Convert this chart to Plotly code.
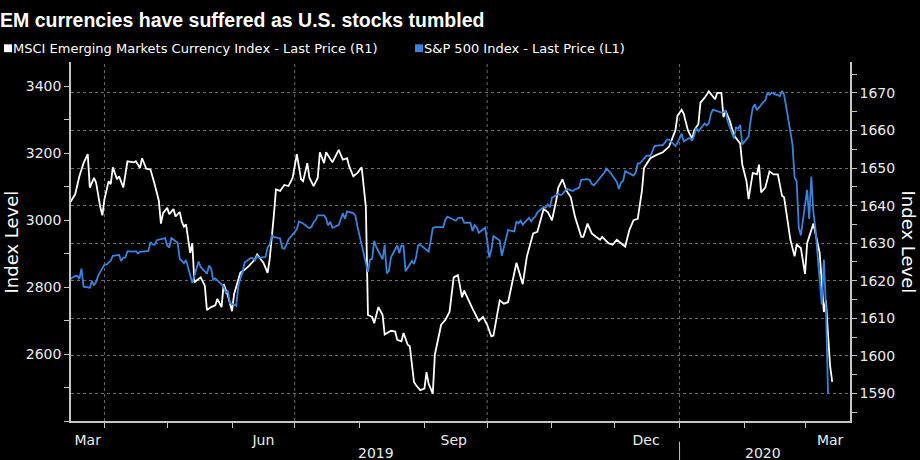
import plotly.graph_objects as go

# ---------------- data ----------------
sp_dates = [
    "2019-03-15", "2019-03-18", "2019-03-19", "2019-03-20", "2019-03-21", "2019-03-22", "2019-03-25", "2019-03-26",
    "2019-03-27", "2019-03-28", "2019-03-29", "2019-04-01", "2019-04-02", "2019-04-03", "2019-04-04", "2019-04-05",
    "2019-04-08", "2019-04-09", "2019-04-10", "2019-04-11", "2019-04-12", "2019-04-15", "2019-04-16", "2019-04-17",
    "2019-04-18", "2019-04-22", "2019-04-23", "2019-04-24", "2019-04-25", "2019-04-26", "2019-04-29", "2019-04-30",
    "2019-05-01", "2019-05-02", "2019-05-03", "2019-05-06", "2019-05-07", "2019-05-08", "2019-05-09", "2019-05-10",
    "2019-05-13", "2019-05-14", "2019-05-15", "2019-05-16", "2019-05-17", "2019-05-20", "2019-05-21", "2019-05-22",
    "2019-05-23", "2019-05-24", "2019-05-28", "2019-05-29", "2019-05-30", "2019-05-31", "2019-06-03", "2019-06-04",
    "2019-06-05", "2019-06-06", "2019-06-07", "2019-06-10", "2019-06-11", "2019-06-12", "2019-06-13", "2019-06-14",
    "2019-06-17", "2019-06-18", "2019-06-19", "2019-06-20", "2019-06-21", "2019-06-24", "2019-06-25", "2019-06-26",
    "2019-06-27", "2019-06-28", "2019-07-01", "2019-07-02", "2019-07-03", "2019-07-05", "2019-07-08", "2019-07-09",
    "2019-07-10", "2019-07-11", "2019-07-12", "2019-07-15", "2019-07-16", "2019-07-17", "2019-07-18", "2019-07-19",
    "2019-07-22", "2019-07-23", "2019-07-24", "2019-07-25", "2019-07-26", "2019-07-29", "2019-07-30", "2019-07-31",
    "2019-08-01", "2019-08-02", "2019-08-05", "2019-08-06", "2019-08-07", "2019-08-08", "2019-08-09", "2019-08-12",
    "2019-08-13", "2019-08-14", "2019-08-15", "2019-08-16", "2019-08-19", "2019-08-20", "2019-08-21", "2019-08-22",
    "2019-08-23", "2019-08-26", "2019-08-27", "2019-08-28", "2019-08-29", "2019-08-30", "2019-09-03", "2019-09-04",
    "2019-09-05", "2019-09-06", "2019-09-09", "2019-09-10", "2019-09-11", "2019-09-12", "2019-09-13", "2019-09-16",
    "2019-09-17", "2019-09-18", "2019-09-19", "2019-09-20", "2019-09-23", "2019-09-24", "2019-09-25", "2019-09-26",
    "2019-09-27", "2019-09-30", "2019-10-01", "2019-10-02", "2019-10-03", "2019-10-04", "2019-10-07", "2019-10-08",
    "2019-10-09", "2019-10-10", "2019-10-11", "2019-10-14", "2019-10-15", "2019-10-16", "2019-10-17", "2019-10-18",
    "2019-10-21", "2019-10-22", "2019-10-23", "2019-10-24", "2019-10-25", "2019-10-28", "2019-10-29", "2019-10-30",
    "2019-10-31", "2019-11-01", "2019-11-04", "2019-11-05", "2019-11-06", "2019-11-07", "2019-11-08", "2019-11-11",
    "2019-11-12", "2019-11-13", "2019-11-14", "2019-11-15", "2019-11-18", "2019-11-19", "2019-11-20", "2019-11-21",
    "2019-11-22", "2019-11-25", "2019-11-26", "2019-11-27", "2019-11-29", "2019-12-02", "2019-12-03", "2019-12-04",
    "2019-12-05", "2019-12-06", "2019-12-09", "2019-12-10", "2019-12-11", "2019-12-12", "2019-12-13", "2019-12-16",
    "2019-12-17", "2019-12-18", "2019-12-19", "2019-12-20", "2019-12-23", "2019-12-24", "2019-12-26", "2019-12-27",
    "2019-12-30", "2019-12-31", "2020-01-02", "2020-01-03", "2020-01-06", "2020-01-07", "2020-01-08", "2020-01-09",
    "2020-01-10", "2020-01-13", "2020-01-14", "2020-01-15", "2020-01-16", "2020-01-17", "2020-01-21", "2020-01-22",
    "2020-01-23", "2020-01-24", "2020-01-27", "2020-01-28", "2020-01-29", "2020-01-30", "2020-01-31", "2020-02-03",
    "2020-02-04", "2020-02-05", "2020-02-06", "2020-02-07", "2020-02-10", "2020-02-11", "2020-02-12", "2020-02-13",
    "2020-02-14", "2020-02-18", "2020-02-19", "2020-02-20", "2020-02-21", "2020-02-24", "2020-02-25", "2020-02-26",
    "2020-02-27", "2020-02-28", "2020-03-02", "2020-03-03", "2020-03-04", "2020-03-05", "2020-03-06", "2020-03-09",
    "2020-03-10", "2020-03-11", "2020-03-12",
]
sp_values = [
    2822, 2833, 2833, 2824, 2855, 2801, 2798, 2818, 2805, 2815, 2834, 2867, 2867, 2873, 2879, 2893,
    2896, 2878, 2888, 2888, 2907, 2906, 2907, 2900, 2905, 2908, 2934, 2927, 2926, 2940, 2943, 2946,
    2924, 2918, 2946, 2932, 2884, 2879, 2871, 2881, 2812, 2834, 2851, 2876, 2860, 2840, 2864, 2856,
    2822, 2826, 2802, 2783, 2789, 2752, 2744, 2803, 2826, 2843, 2873, 2887, 2886, 2880, 2892, 2887,
    2890, 2918, 2926, 2954, 2950, 2945, 2917, 2914, 2925, 2942, 2964, 2973, 2996, 2990, 2976, 2980,
    2993, 3000, 3014, 3014, 3004, 2984, 2995, 2977, 2985, 3005, 3020, 3004, 3026, 3021, 3013, 2980,
    2954, 2932, 2845, 2882, 2884, 2938, 2919, 2883, 2926, 2841, 2848, 2889, 2924, 2901, 2924, 2923,
    2847, 2878, 2869, 2888, 2925, 2926, 2906, 2938, 2976, 2979, 2978, 2979, 3001, 3010, 3007, 2998,
    3006, 3007, 3007, 2992, 2992, 2967, 2985, 2978, 2962, 2977, 2940, 2888, 2911, 2952, 2939, 2893,
    2919, 2938, 2970, 2966, 2996, 2990, 2998, 2986, 3007, 2996, 3005, 3010, 3023, 3039, 3037, 3047,
    3038, 3067, 3078, 3075, 3077, 3085, 3093, 3087, 3092, 3094, 3097, 3120, 3122, 3120, 3108, 3104,
    3110, 3134, 3141, 3154, 3141, 3114, 3093, 3113, 3117, 3146, 3136, 3133, 3142, 3169, 3169, 3191,
    3193, 3191, 3205, 3221, 3224, 3223, 3240, 3240, 3221, 3231, 3258, 3235, 3246, 3237, 3253, 3275,
    3265, 3288, 3283, 3289, 3317, 3330, 3321, 3322, 3326, 3295, 3244, 3276, 3273, 3284, 3226, 3249,
    3298, 3335, 3346, 3328, 3352, 3358, 3379, 3374, 3380, 3370, 3386, 3373, 3338, 3226, 3128, 3116,
    2979, 2954, 3090, 3003, 3130, 3024, 2972, 2747, 2882, 2741, 2481,
]

em_dates = [
    "2019-03-15", "2019-03-18", "2019-03-20", "2019-03-22", "2019-03-24", "2019-03-25", "2019-03-27", "2019-03-28",
    "2019-03-30", "2019-03-31", "2019-04-01", "2019-04-03", "2019-04-04", "2019-04-05", "2019-04-07", "2019-04-08",
    "2019-04-10", "2019-04-12", "2019-04-15", "2019-04-16", "2019-04-18", "2019-04-19", "2019-04-21", "2019-04-23",
    "2019-04-25", "2019-04-27", "2019-04-28", "2019-04-29", "2019-05-01", "2019-05-02", "2019-05-04", "2019-05-05",
    "2019-05-07", "2019-05-08", "2019-05-09", "2019-05-10", "2019-05-12", "2019-05-13", "2019-05-14", "2019-05-16",
    "2019-05-17", "2019-05-19", "2019-05-20", "2019-05-22", "2019-05-24", "2019-05-25", "2019-05-27", "2019-05-28",
    "2019-05-30", "2019-06-01", "2019-06-02", "2019-06-05", "2019-06-07", "2019-06-09", "2019-06-12", "2019-06-13",
    "2019-06-16", "2019-06-18", "2019-06-19", "2019-06-21", "2019-06-22", "2019-06-24", "2019-06-26", "2019-06-28",
    "2019-06-30", "2019-07-02", "2019-07-04", "2019-07-05", "2019-07-07", "2019-07-08", "2019-07-10", "2019-07-12",
    "2019-07-13", "2019-07-15", "2019-07-16", "2019-07-19", "2019-07-22", "2019-07-24", "2019-07-26", "2019-07-27",
    "2019-07-29", "2019-07-31", "2019-08-02", "2019-08-04", "2019-08-05", "2019-08-07", "2019-08-08", "2019-08-10",
    "2019-08-12", "2019-08-13", "2019-08-16", "2019-08-18", "2019-08-19", "2019-08-21", "2019-08-22", "2019-08-24",
    "2019-08-25", "2019-08-27", "2019-08-28", "2019-08-30", "2019-09-01", "2019-09-02", "2019-09-03", "2019-09-05",
    "2019-09-06", "2019-09-09", "2019-09-11", "2019-09-13", "2019-09-15", "2019-09-17", "2019-09-19", "2019-09-20",
    "2019-09-22", "2019-09-24", "2019-09-27", "2019-09-29", "2019-10-01", "2019-10-03", "2019-10-04", "2019-10-07",
    "2019-10-09", "2019-10-11", "2019-10-15", "2019-10-18", "2019-10-20", "2019-10-23", "2019-10-25", "2019-10-28",
    "2019-10-30", "2019-11-01", "2019-11-03", "2019-11-04", "2019-11-06", "2019-11-08", "2019-11-10", "2019-11-12",
    "2019-11-15", "2019-11-16", "2019-11-18", "2019-11-20", "2019-11-22", "2019-11-24", "2019-11-25", "2019-11-28",
    "2019-11-30", "2019-12-02", "2019-12-04", "2019-12-06", "2019-12-08", "2019-12-10", "2019-12-12", "2019-12-14",
    "2019-12-15", "2019-12-18", "2019-12-21", "2019-12-24", "2019-12-27", "2019-12-30", "2019-12-31", "2020-01-02",
    "2020-01-03", "2020-01-05", "2020-01-07", "2020-01-08", "2020-01-10", "2020-01-11", "2020-01-13", "2020-01-15",
    "2020-01-18", "2020-01-19", "2020-01-21", "2020-01-22", "2020-01-23", "2020-01-25", "2020-01-27", "2020-01-29",
    "2020-01-30", "2020-01-31", "2020-02-02", "2020-02-03", "2020-02-05", "2020-02-07", "2020-02-08", "2020-02-09",
    "2020-02-11", "2020-02-13", "2020-02-15", "2020-02-17", "2020-02-19", "2020-02-20", "2020-02-22", "2020-02-23",
    "2020-02-25", "2020-02-26", "2020-02-28", "2020-03-01", "2020-03-02", "2020-03-05", "2020-03-07", "2020-03-08",
    "2020-03-10", "2020-03-11", "2020-03-12", "2020-03-13", "2020-03-14",
]
em_values = [
    1640.3, 1643.0, 1647.8, 1651.3, 1653.7, 1644.8, 1647.4, 1646.1,
    1639.6, 1637.4, 1641.7, 1646.5, 1645.7, 1650.2, 1647.0, 1647.8,
    1644.8, 1651.8, 1651.5, 1651.8, 1650.0, 1652.6, 1649.8, 1649.6,
    1645.7, 1641.3, 1635.2, 1638.0, 1639.4, 1637.7, 1639.1, 1637.1,
    1638.3, 1635.7, 1634.4, 1635.0, 1627.4, 1630.0, 1619.6, 1620.4,
    1620.9, 1618.7, 1612.2, 1613.0, 1613.5, 1615.2, 1613.0, 1619.1,
    1616.1, 1611.9, 1616.5, 1622.2, 1622.9, 1623.9, 1625.7, 1627.0,
    1624.8, 1622.1, 1625.7, 1637.4, 1644.3, 1643.9, 1645.5, 1645.2,
    1647.4, 1653.7, 1647.0, 1646.5, 1651.3, 1647.4, 1645.2, 1647.4,
    1654.2, 1651.3, 1654.2, 1651.5, 1654.8, 1652.2, 1652.6, 1650.5,
    1647.8, 1648.7, 1650.2, 1639.6, 1610.9, 1610.4, 1608.7, 1613.0,
    1610.9, 1605.7, 1606.7, 1606.5, 1604.3, 1603.9, 1606.1, 1603.0,
    1602.6, 1593.1, 1592.2, 1590.9, 1591.3, 1595.7, 1592.6, 1590.0,
    1600.4, 1608.3, 1609.6, 1611.7, 1620.9, 1621.5, 1615.6, 1617.4,
    1614.8, 1612.6, 1609.3, 1610.4, 1608.3, 1605.2, 1605.4, 1614.8,
    1613.9, 1614.3, 1624.8, 1619.1, 1626.5, 1632.6, 1633.0, 1639.1,
    1638.3, 1636.1, 1641.3, 1644.8, 1647.0, 1643.9, 1642.2, 1637.0,
    1631.7, 1631.7, 1635.2, 1632.6, 1631.7, 1630.9, 1631.7, 1630.0,
    1629.6, 1630.9, 1630.0, 1629.1, 1633.5, 1636.1, 1636.5, 1643.9,
    1650.0, 1652.6, 1653.5, 1654.2, 1655.7, 1660.0, 1663.9, 1665.5,
    1664.4, 1660.0, 1657.8, 1660.0, 1661.7, 1667.4, 1668.7, 1670.4,
    1668.3, 1670.0, 1670.0, 1663.5, 1665.2, 1662.6, 1658.7, 1657.0,
    1656.5, 1650.9, 1646.5, 1641.7, 1648.7, 1648.3, 1650.9, 1643.5,
    1644.8, 1649.1, 1648.3, 1648.3, 1642.6, 1642.2, 1635.2, 1630.9,
    1626.5, 1629.6, 1628.7, 1621.8, 1630.0, 1635.2, 1630.0, 1627.4,
    1611.7, 1614.8, 1605.7, 1597.3, 1593.1,
]

em_name = "MSCI Emerging Markets Currency Index - Last Price (R1)"
sp_name = "S&P 500 Index - Last Price (L1)"
title_text = "EM currencies have suffered as U.S. stocks tumbled"

month_ticks = ["2019-04-01", "2019-05-01", "2019-06-01", "2019-07-01", "2019-08-01", "2019-09-01",
               "2019-10-01", "2019-11-01", "2019-12-01", "2020-01-01", "2020-02-01", "2020-03-01"]
quarter_lines = ["2019-04-01", "2019-07-01", "2019-10-01", "2020-01-01"]
label_dates = ["2019-03-24", "2019-06-16", "2019-09-15", "2019-12-16", "2020-03-13"]
label_text = ["Mar", "Jun", "Sep", "Dec", "Mar"]
year_dates = ["2019-08-09", "2020-02-10"]
year_text = ["2019", "2020"]
year_split = "2020-01-01"

left_ticks = [2600, 2800, 3000, 3200, 3400]
right_ticks = [1590, 1600, 1610, 1620, 1630, 1640, 1650, 1660, 1670]

# ---------------- style / layout ----------------
W, H = 920, 460
ML, MR, MT, MB = 71, 70, 62, 32
PW, PH = W - ML - MR, H - MT - MB


def px(x):
    return (x - ML) / PW


def py(y):
    return (H - MB - y) / PH


BG = "#000000"
WHITE = "#ffffff"
BLUE = "#3c82dc"
AXIS = "#c4c4c4"
GRID = "#6b6b6b"
TXT = "#ececec"
FONT = "DejaVu Sans"

fig = go.Figure()
fig.add_trace(go.Scatter(x=em_dates, y=em_values, yaxis="y", mode="lines", name=em_name,
                         line=dict(color=WHITE, width=1.8), showlegend=False))
fig.add_trace(go.Scatter(x=sp_dates, y=sp_values, yaxis="y2", mode="lines", name=sp_name,
                         line=dict(color=BLUE, width=1.8), showlegend=False))

shapes = []
for d in quarter_lines:
    shapes.append(dict(type="line", xref="x", yref="paper", x0=d, x1=d, y0=0, y1=1,
                       line=dict(color=GRID, width=1, dash="dot"), layer="below"))
shapes.append(dict(type="line", xref="x", yref="paper", x0=year_split, x1=year_split,
                   y0=py(449), y1=py(475), line=dict(color=AXIS, width=1)))
# legend swatches
shapes.append(dict(type="rect", xref="paper", yref="paper", x0=px(4), x1=px(12), y0=py(52), y1=py(44),
                   fillcolor=WHITE, line=dict(width=0)))
shapes.append(dict(type="rect", xref="paper", yref="paper", x0=px(415), x1=px(423), y0=py(52), y1=py(44),
                   fillcolor=BLUE, line=dict(width=0)))

annotations = [
    dict(text="<b>" + title_text + "</b>", xref="paper", yref="paper", x=px(-2), y=py(6),
         xanchor="left", yanchor="top", showarrow=False,
         font=dict(family="Liberation Sans", size=19.5, color=WHITE)),
    dict(text=em_name, xref="paper", yref="paper", x=px(11), y=py(48), xanchor="left", yanchor="middle",
         showarrow=False, font=dict(family=FONT, size=13, color=WHITE)),
    dict(text=sp_name, xref="paper", yref="paper", x=px(422), y=py(48), xanchor="left", yanchor="middle",
         showarrow=False, font=dict(family=FONT, size=13, color=WHITE)),
    dict(text="Index Level", xref="paper", yref="paper", x=px(11), y=0.5, xanchor="center", yanchor="middle",
         textangle=-90, showarrow=False, font=dict(family=FONT, size=18, color=WHITE)),
    dict(text="Index Level", xref="paper", yref="paper", x=px(908), y=0.5, xanchor="center", yanchor="middle",
         textangle=90, showarrow=False, font=dict(family=FONT, size=18, color=WHITE)),
]
for d, t in zip(year_dates, year_text):
    annotations.append(dict(text=t, xref="x", yref="paper", x=d, y=py(450), xanchor="center", yanchor="top",
                            showarrow=False, font=dict(family=FONT, size=14, color=TXT)))

fig.update_layout(
    width=W, height=H,
    margin=dict(l=ML, r=MR, t=MT, b=MB, pad=0),
    paper_bgcolor=BG, plot_bgcolor=BG,
    showlegend=False,
    font=dict(family=FONT, color=TXT, size=14),
    shapes=shapes,
    annotations=annotations,
    xaxis=dict(
        type="date", range=["2019-03-16", "2020-03-22 12:00"],
        showgrid=False, zeroline=False,
        showline=True, linecolor=AXIS, linewidth=1.5,
        tickmode="array", tickvals=label_dates, ticktext=label_text,
        ticks="outside", ticklen=5, tickcolor="rgba(0,0,0,0)",
        tickfont=dict(family=FONT, size=14, color=TXT),
        minor=dict(tickmode="array", tickvals=month_ticks, ticks="outside", ticklen=5,
                   tickcolor=AXIS, tickwidth=1, showgrid=False),
    ),
    yaxis=dict(
        side="right", range=[1582.7, 1678.2],
        tickmode="array", tickvals=right_ticks,
        ticks="outside", ticklen=5, tickcolor=AXIS, tickwidth=1,
        showline=True, linecolor=AXIS, linewidth=1.5,
        showgrid=True, gridcolor=GRID, gridwidth=1, griddash="dot",
        zeroline=False,
        tickfont=dict(family=FONT, size=14, color=TXT),
        minor=dict(dtick=5, tick0=1585, ticks="outside", ticklen=5, tickcolor=AXIS, showgrid=False),
    ),
    yaxis2=dict(
        side="left", overlaying="y", range=[2400, 3472],
        tickmode="array", tickvals=left_ticks,
        ticks="outside", ticklen=5, tickcolor=AXIS, tickwidth=1,
        showline=True, linecolor=AXIS, linewidth=1.5,
        showgrid=False, zeroline=False,
        tickfont=dict(family=FONT, size=14, color=TXT),
        minor=dict(dtick=100, tick0=2400, ticks="outside", ticklen=5, tickcolor=AXIS, showgrid=False),
    ),
)

fig.write_html("out.html")
